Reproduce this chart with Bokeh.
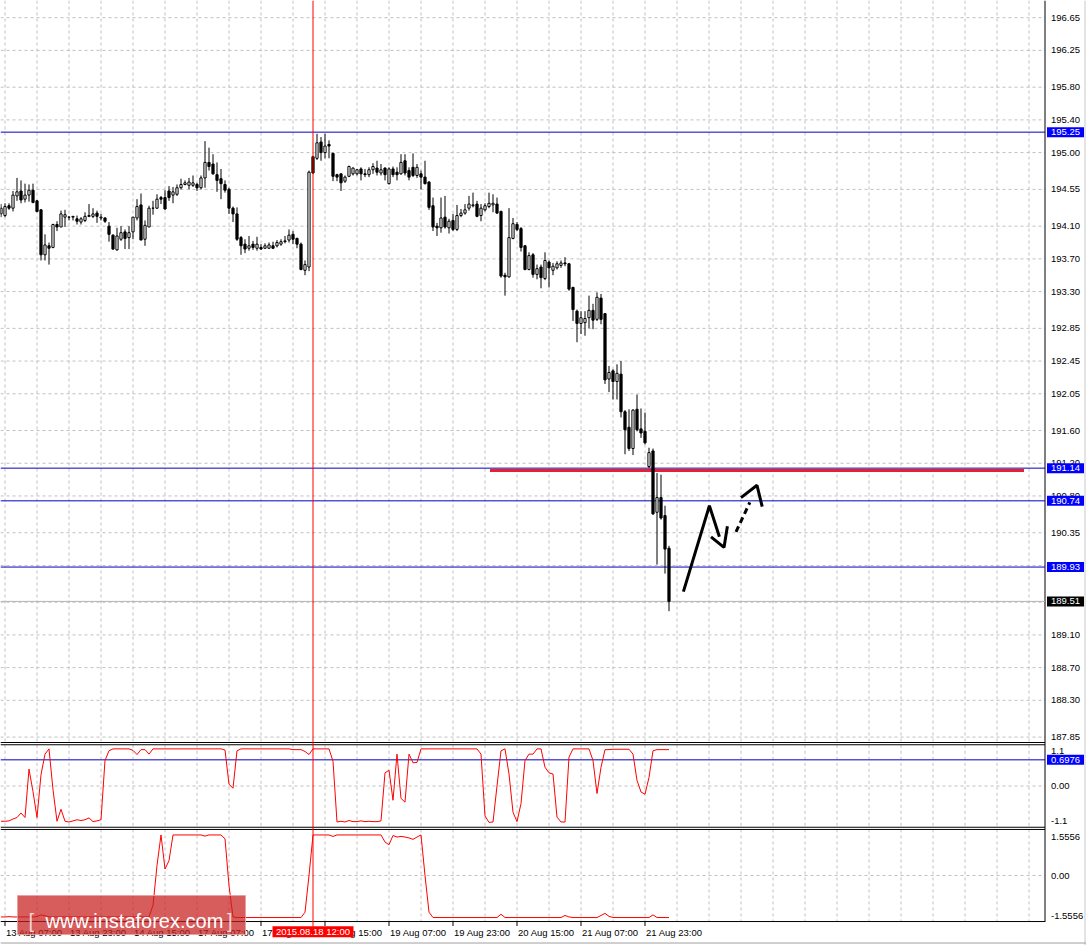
from bokeh.plotting import figure
from bokeh.models import ColumnDataSource, Range1d
from bokeh.embed import file_html
from bokeh.resources import INLINE
from bokeh.core.properties import value

# ---------------- data (H1 candles, bar index 0 = 13 Aug 06:00) ----------------
opens = [194.25,194.23,194.35,194.32,194.47,194.53,194.43,194.48,194.54,194.41,
194.30,193.75,193.86,193.84,194.12,194.09,194.21,194.21,194.21,194.19,
194.15,194.17,194.22,194.22,194.26,194.20,194.20,194.10,193.99,193.81,
193.94,194.03,193.96,194.03,194.20,194.36,193.94,194.09,194.32,194.32,
194.45,194.45,194.53,194.48,194.49,194.57,194.61,194.60,194.60,194.61,
194.57,194.69,194.88,194.86,194.73,194.68,194.61,194.55,194.32,194.25,
193.96,193.88,193.83,193.88,193.83,193.84,193.83,193.83,193.86,193.86,
193.88,193.91,193.93,194.00,193.95,193.88,193.56,193.60,194.95,194.93,
195.13,195.00,195.10,194.99,194.73,194.74,194.65,194.71,194.74,194.74,
194.80,194.74,194.73,194.79,194.81,194.75,194.81,194.62,194.80,194.76,
194.74,194.90,194.78,194.82,194.72,194.74,194.70,194.64,194.35,194.10,
194.08,194.21,194.08,194.17,194.06,194.23,194.26,194.32,194.35,194.37,
194.23,194.30,194.34,194.36,194.37,194.28,193.50,193.48,193.95,194.12,
194.07,193.86,193.57,193.75,193.51,193.60,193.46,193.66,193.56,193.59,
193.62,193.65,193.64,193.35,193.06,192.91,192.92,192.98,193.07,192.96,
193.22,193.03,192.23,192.33,192.20,192.29,191.83,191.64,191.38,191.86,
191.62,191.59,191.16,191.35,190.60,190.78,190.56,190.16]

highs = [194.37,194.38,194.38,194.53,194.69,194.66,194.62,194.61,194.62,194.42,
194.31,194.00,193.90,194.13,194.16,194.29,194.30,194.22,194.22,194.23,
194.21,194.27,194.37,194.32,194.29,194.25,194.21,194.15,194.00,194.08,
194.10,194.06,194.10,194.21,194.43,194.50,194.17,194.35,194.41,194.49,
194.47,194.54,194.59,194.58,194.61,194.68,194.66,194.69,194.72,194.63,
194.72,195.14,195.06,194.98,194.88,194.80,194.66,194.57,194.34,194.33,
193.98,193.94,193.98,193.92,193.97,193.88,193.89,193.90,193.91,193.93,
193.94,193.98,194.06,194.04,193.96,193.90,193.68,194.78,194.96,195.23,
195.19,195.23,195.15,195.00,194.74,194.74,194.72,194.84,194.82,194.80,
194.82,194.80,194.82,194.87,194.90,194.86,194.82,194.82,194.83,194.82,
194.98,194.98,194.82,194.99,194.86,194.78,194.90,194.65,194.45,194.14,
194.45,194.47,194.19,194.25,194.36,194.31,194.37,194.47,194.51,194.41,
194.37,194.38,194.51,194.49,194.45,194.29,193.53,194.32,194.20,194.15,
194.09,193.87,193.78,193.77,193.63,193.63,193.78,193.68,193.65,193.67,
193.68,193.72,193.65,193.36,193.08,193.06,193.06,193.25,193.15,193.29,
193.27,193.03,192.39,192.35,192.41,192.45,191.85,191.86,191.86,192.04,
191.87,191.82,191.39,191.38,191.08,191.06,190.68,190.19]

lows = [194.21,194.21,194.30,194.28,194.41,194.38,194.39,194.40,194.38,194.27,
193.68,193.68,193.63,193.83,194.04,194.09,194.09,194.17,194.17,194.12,
194.12,194.15,194.21,194.20,194.14,194.17,194.14,193.91,193.81,193.80,
193.92,193.82,193.82,193.94,194.17,193.93,193.86,194.09,194.24,194.31,
194.37,194.30,194.41,194.38,194.47,194.55,194.60,194.55,194.58,194.53,
194.55,194.57,194.78,194.73,194.52,194.43,194.51,194.25,194.15,193.92,
193.75,193.77,193.80,193.81,193.80,193.81,193.82,193.82,193.82,193.84,
193.86,193.89,193.90,193.88,193.83,193.56,193.50,193.55,194.74,194.91,
194.90,194.93,194.93,194.65,194.65,194.53,194.63,194.70,194.72,194.72,
194.66,194.70,194.70,194.74,194.72,194.72,194.66,194.61,194.70,194.66,
194.73,194.72,194.66,194.70,194.69,194.55,194.61,194.30,194.04,193.98,
194.02,194.07,194.01,194.04,194.04,194.21,194.24,194.29,194.33,194.21,
194.16,194.28,194.32,194.27,194.25,193.47,193.25,193.47,193.94,194.04,
193.79,193.56,193.56,193.47,193.45,193.34,193.44,193.35,193.50,193.57,
193.59,193.61,193.31,192.94,192.68,192.78,192.76,192.85,192.84,192.94,
192.90,192.17,192.07,191.98,191.98,191.76,191.31,191.35,191.30,191.59,
191.51,191.43,191.14,190.57,189.96,190.51,189.85,189.39]

closes = [194.32,194.34,194.32,194.48,194.52,194.42,194.48,194.54,194.39,194.28,
193.75,193.87,193.83,194.12,194.09,194.25,194.24,194.21,194.22,194.16,
194.19,194.22,194.23,194.25,194.22,194.21,194.16,194.00,193.82,193.98,
194.02,193.95,194.02,194.21,194.34,193.93,194.11,194.32,194.32,194.43,
194.43,194.31,194.45,194.52,194.57,194.61,194.63,194.64,194.63,194.57,
194.69,194.88,194.83,194.74,194.66,194.62,194.54,194.32,194.25,193.94,
193.86,193.82,193.86,193.84,193.88,193.82,193.86,193.87,193.83,193.90,
193.91,193.92,193.99,193.94,193.88,193.57,193.63,194.76,194.75,195.12,
195.00,195.08,195.08,194.71,194.70,194.63,194.70,194.83,194.81,194.79,
194.74,194.73,194.79,194.83,194.76,194.79,194.73,194.80,194.73,194.73,
194.88,194.75,194.70,194.72,194.82,194.70,194.62,194.33,194.09,194.08,
194.20,194.09,194.16,194.06,194.23,194.26,194.30,194.37,194.36,194.22,
194.32,194.35,194.38,194.38,194.26,193.49,193.48,193.96,194.13,194.06,
193.84,193.57,193.74,193.51,193.58,193.47,193.68,193.59,193.61,193.64,
193.65,193.64,193.33,193.08,192.91,192.98,192.97,193.07,192.95,193.23,
192.96,192.22,192.31,192.20,192.30,191.83,191.61,191.38,191.85,191.61,
191.57,191.45,191.33,190.58,190.78,190.53,190.15,189.51]

osc1 = [-0.94,-0.94,-0.93,-0.88,-0.84,-0.72,-0.84,0.45,-0.15,-0.84,
0.30,0.85,0.99,-0.10,-0.94,-0.62,-0.94,-0.96,-0.93,-0.90,
-0.92,-0.90,-0.85,-0.95,-0.93,-0.90,0.68,0.94,0.99,0.99,
0.99,0.99,0.99,0.95,0.84,0.97,0.97,0.85,0.99,0.99,
0.99,0.99,0.99,0.99,0.99,0.99,0.99,0.99,0.99,0.99,
0.99,0.99,0.99,0.99,0.99,0.99,0.96,0.05,-0.06,0.94,
0.99,0.99,0.99,0.99,0.99,0.99,0.99,0.99,0.99,0.99,
0.99,0.99,0.99,0.97,0.97,0.97,0.92,0.84,0.99,0.99,
0.99,0.99,0.99,0.66,-0.96,-0.94,-0.96,-0.92,-0.95,-0.95,
-0.93,-0.95,-0.94,-0.95,-0.95,-0.93,0.35,0.42,-0.38,0.85,
-0.33,-0.43,0.85,0.62,0.63,0.99,0.99,0.99,0.99,0.99,
0.99,0.99,0.99,0.99,0.99,0.99,0.99,0.99,0.99,0.99,
0.85,-0.80,-0.97,-0.96,0.00,0.94,0.99,0.32,-0.70,-0.95,
-0.47,0.68,0.85,0.85,0.99,0.99,0.50,0.35,0.32,-0.83,
-0.96,-0.96,0.77,0.99,0.99,0.99,0.99,0.99,0.68,-0.20,
0.50,0.97,0.97,0.98,0.98,0.98,0.98,0.98,0.85,0.15,
-0.16,-0.22,0.23,0.94,0.97,0.97,0.97,0.97]

osc2 = [-1.40,-1.40,-1.39,-1.40,-1.40,-1.40,-1.40,-1.40,-1.40,-1.39,
-1.33,-1.36,-1.40,-1.40,-1.40,-1.40,-1.40,-1.40,-1.40,-1.40,
-1.40,-1.40,-1.40,-1.40,-1.40,-1.40,-1.40,-1.40,-1.40,-1.40,
-1.40,-1.40,-1.40,-1.40,-1.40,-1.40,-1.40,-1.40,-1.01,0.34,
1.37,0.22,0.50,1.37,1.37,1.37,1.37,1.37,1.37,1.37,
1.37,1.33,1.37,1.37,1.37,1.37,1.24,-0.34,-1.40,-1.42,
-1.42,-1.42,-1.42,-1.42,-1.42,-1.42,-1.42,-1.42,-1.42,-1.42,
-1.42,-1.42,-1.42,-1.42,-1.42,-1.42,-1.24,0.00,1.37,1.37,
1.37,1.37,1.37,1.32,1.37,1.37,1.37,1.37,1.37,1.37,
1.37,1.37,1.37,1.37,1.37,1.37,1.13,1.04,1.35,1.30,
1.32,1.30,1.27,1.22,1.30,1.37,0.00,-1.24,-1.42,-1.42,
-1.42,-1.42,-1.42,-1.42,-1.42,-1.42,-1.42,-1.42,-1.42,-1.42,
-1.42,-1.42,-1.42,-1.42,-1.42,-1.31,-1.42,-1.42,-1.42,-1.42,
-1.42,-1.42,-1.42,-1.42,-1.42,-1.42,-1.42,-1.42,-1.42,-1.42,
-1.42,-1.35,-1.40,-1.42,-1.42,-1.42,-1.42,-1.42,-1.42,-1.42,
-1.35,-1.28,-1.38,-1.42,-1.42,-1.42,-1.42,-1.42,-1.42,-1.42,
-1.42,-1.42,-1.42,-1.33,-1.42,-1.42,-1.42,-1.42]

x_tick_bars = [1, 17, 33, 49, 65, 81, 97, 113, 129, 145, 161]
x_tick_labels = ["13 Aug 07:00", "13 Aug 23:00", "14 Aug 15:00", "17 Aug 07:00",
                 "17 Aug 23:00", "18 Aug 15:00", "19 Aug 07:00", "19 Aug 23:00",
                 "20 Aug 15:00", "21 Aug 07:00", "21 Aug 23:00"]
price_ticks = [196.65, 196.25, 195.80, 195.40, 195.00, 194.55, 194.10, 193.70, 193.30,
               192.85, 192.45, 192.05, 191.60, 191.20, 190.80, 190.35, 189.95, 189.50,
               189.10, 188.70, 188.30, 187.85]
blue_levels = [195.25, 191.14, 190.74, 189.93]
last_price = 189.51
red_level = 191.11
red_level_from = 122.25
red_level_to = 255.75
marker_bar = 78
marker_text = "2015.08.18 12:00"
osc1_window = 1.1
osc1_level = 0.6976
osc2_window = 1.5556
watermark = "www.instaforex.com"

# hand-drawn forecast arrow (bar index, price)
fc_a_x = [170.6, 177.1, 179.6]
fc_a_y = [189.63, 190.68, 190.30]
fc_b_x = [177.5, 180.75, 181.6]
fc_b_y = [190.30, 190.17, 190.43]
fc_dash_x = [183.75, 187.2]
fc_dash_y = [190.36, 190.72]
fc_c_x = [185.0, 189.0, 190.3]
fc_c_y = [190.78, 190.93, 190.67]

# ---------------- layout (one canvas, three scales) ----------------
W, H = 1086, 945
BAR_PX = 4.0
X0 = -0.125
X1 = X0 + W / BAR_PX
PPU_P = 81.75
P_TOP = 196.65 + 17.2 / PPU_P
P_BOT = P_TOP - H / PPU_P
O1_ZERO, PPU_1 = 785.5, 37.5
O2_ZERO, PPU_2 = 875.0, 29.6

FONT = value("Liberation Sans")
FS = "9.5px"
GRID = "#C0C0C0"
BLUE = "#0000FF"
LEVEL_BLUE = "#0000C0"


def xp(px):
    return X0 + px / BAR_PX


def yp(py):
    return P_TOP - py / PPU_P


def y1(py):
    return (O1_ZERO - py) / PPU_1


def y2(py):
    return (O2_ZERO - py) / PPU_2


AX = xp(1044.5)
LABEL_X = xp(1050.5)
BOX_X = xp(1065.0)
MAIN_BOTTOM = yp(742.0)

p = figure(frame_width=W, frame_height=H, x_range=Range1d(X0, X1), y_range=Range1d(P_BOT, P_TOP),
           output_backend="svg", toolbar_location=None, x_axis_location=None, y_axis_location=None,
           min_border_left=0, min_border_right=0, min_border_top=0, min_border_bottom=0,
           outline_line_color=None, background_fill_color="white", border_fill_color="white")
p.extra_y_ranges = {"o1": Range1d(y1(H), y1(0)), "o2": Range1d(y2(H), y2(0))}
p.grid.visible = False

grid_bars = list(range(1, int(AX), 8))
ng = len(grid_bars)

# ---- grids ----
p.segment(x0=grid_bars, x1=grid_bars, y0=[P_TOP] * ng, y1=[MAIN_BOTTOM] * ng,
          line_color=GRID, line_dash="3 3", line_width=1)
p.segment(x0=[X0] * len(price_ticks), x1=[AX] * len(price_ticks), y0=price_ticks, y1=price_ticks,
          line_color=GRID, line_dash="3 3", line_width=1)
p.segment(x0=grid_bars, x1=grid_bars, y0=[osc1_window] * ng, y1=[-osc1_window] * ng,
          line_color=GRID, line_dash="3 3", y_range_name="o1")
p.segment(x0=[X0], x1=[AX], y0=[0.0], y1=[0.0], line_color=GRID, line_dash="3 3", y_range_name="o1")
p.segment(x0=grid_bars, x1=grid_bars, y0=[osc2_window] * ng, y1=[-osc2_window] * ng,
          line_color=GRID, line_dash="3 3", y_range_name="o2")
p.segment(x0=[X0], x1=[AX], y0=[0.0], y1=[0.0], line_color=GRID, line_dash="3 3", y_range_name="o2")

# ---- window borders and axis lines ----
p.segment(x0=[X0], x1=[AX], y0=[MAIN_BOTTOM], y1=[MAIN_BOTTOM], line_color="black")
p.segment(x0=[X0, X0], x1=[AX, AX], y0=[osc1_window, -osc1_window], y1=[osc1_window, -osc1_window],
          line_color="black", y_range_name="o1")
p.segment(x0=[X0, X0], x1=[AX, AX], y0=[osc2_window, -osc2_window], y1=[osc2_window, -osc2_window],
          line_color="black", y_range_name="o2")
p.segment(x0=[AX], x1=[AX], y0=[P_TOP], y1=[yp(921.5)], line_color="black")
p.segment(x0=[xp(1084.5)], x1=[xp(1084.5)], y0=[P_TOP], y1=[P_BOT], line_color="#C8C8C8")
p.segment(x0=[X0], x1=[X1], y0=[yp(942.5)], y1=[yp(942.5)], line_color="#A0A0A0")

# ---- price levels ----
for lv in blue_levels:
    p.segment(x0=[X0], x1=[AX], y0=[lv], y1=[lv], line_color=LEVEL_BLUE, line_width=1)
p.segment(x0=[X0], x1=[AX], y0=[last_price], y1=[last_price], line_color="#B4B4B4", line_width=1)
p.segment(x0=[red_level_from], x1=[red_level_to], y0=[red_level], y1=[red_level],
          line_color="#E8202E", line_width=3)

# ---- candles ----
xs = list(range(len(opens)))
tops = [max(o, c) for o, c in zip(opens, closes)]
bots = [min(o, c) for o, c in zip(opens, closes)]
fills = ["white" if c > o else "black" for o, c in zip(opens, closes)]
src = ColumnDataSource(dict(x=xs, high=highs, low=lows, top=tops, bottom=bots, fill=fills))
p.segment(x0="x", y0="high", x1="x", y1="low", line_color="black", line_width=1, source=src)
p.vbar(x="x", width=0.55, top="top", bottom="bottom", fill_color="fill",
       line_color="black", line_width=1, source=src)

# ---- forecast sketch ----
p.line(fc_a_x, fc_a_y, line_color="black", line_width=3)
p.line(fc_b_x, fc_b_y, line_color="black", line_width=3)
p.line(fc_dash_x, fc_dash_y, line_color="black", line_width=3, line_dash="6 4")
p.line(fc_c_x, fc_c_y, line_color="black", line_width=3)

# ---- oscillators ----
p.segment(x0=[X0], x1=[AX], y0=[osc1_level], y1=[osc1_level], line_color=LEVEL_BLUE, y_range_name="o1")
p.line(xs, osc1, line_color="#FF0000", line_width=1, y_range_name="o1")
p.line(xs, osc2, line_color="#FF0000", line_width=1, y_range_name="o2")

# ---- vertical marker ----
p.segment(x0=[marker_bar], x1=[marker_bar], y0=[P_TOP], y1=[yp(926.0)], line_color="#FF0000", line_width=1)

# ---- right price scale ----
p.text(x=[LABEL_X] * len(price_ticks), y=price_ticks, text=["%.2f" % t for t in price_ticks],
       text_font=FONT, text_font_size=FS, text_color="black", text_align="left", text_baseline="middle")
box_levels = blue_levels + [last_price]
box_colors = [BLUE] * len(blue_levels) + ["black"]
p.rect(x=[BOX_X] * len(box_levels), y=box_levels, width=37, height=10, width_units="screen",
       height_units="screen", fill_color=box_colors, line_color=None)
p.text(x=[LABEL_X] * len(box_levels), y=box_levels, text=["%.2f" % v for v in box_levels],
       text_font=FONT, text_font_size=FS, text_color="white", text_align="left", text_baseline="middle")

# oscillator 1 scale
p.text(x=[LABEL_X] * 3, y=[y1(750.0), 0.0, y1(820.0)], text=["1.1", "0.00", "-1.1"],
       text_font=FONT, text_font_size=FS, text_color="black", text_align="left",
       text_baseline="middle", y_range_name="o1")
p.rect(x=[BOX_X], y=[osc1_level], width=37, height=10, width_units="screen", height_units="screen",
       fill_color=BLUE, line_color=None, y_range_name="o1")
p.text(x=[LABEL_X], y=[osc1_level], text=["%.4f" % osc1_level], text_font=FONT, text_font_size=FS,
       text_color="white", text_align="left", text_baseline="middle", y_range_name="o1")

# oscillator 2 scale
p.text(x=[LABEL_X] * 3, y=[y2(836.7), 0.0, y2(915.7)], text=["1.5556", "0.00", "-1.5556"],
       text_font=FONT, text_font_size=FS, text_color="black", text_align="left",
       text_baseline="middle", y_range_name="o2")

# ---- time scale ----
nt = len(x_tick_bars)
p.segment(x0=x_tick_bars, x1=x_tick_bars, y0=[-osc2_window] * nt, y1=[y2(925.5)] * nt,
          line_color="black", y_range_name="o2")
p.text(x=x_tick_bars, y=[y2(932.3)] * nt, x_offset=1, text=x_tick_labels, text_font=FONT,
       text_font_size=FS, text_color="black", text_align="left", text_baseline="middle",
       y_range_name="o2")
p.rect(x=[marker_bar], y=[y2(931.3)], width=81, height=11, width_units="screen",
       height_units="screen", fill_color="#FF0000", line_color=None, y_range_name="o2")
p.text(x=[marker_bar], y=[y2(931.3)], text=[marker_text], text_font=FONT, text_font_size=FS,
       text_color="white", text_align="center", text_baseline="middle", y_range_name="o2")

# ---- watermark ----
p.rect(x=[xp(131.0)], y=[y2(914.5)], width=228, height=39, width_units="screen",
       height_units="screen", fill_color="#C81E1E", fill_alpha=0.72,
       line_color="#E8A0A0", line_alpha=0.9, y_range_name="o2")
p.text(x=[xp(45.0)], y=[y2(920.5)], text=[watermark], text_font=FONT, text_font_size="20px",
       text_color="white", text_align="left", text_baseline="alphabetic", y_range_name="o2")
p.text(x=[xp(28.0), xp(226.5)], y=[y2(920.5)] * 2, text=["[", "]"], text_font=FONT,
       text_font_size="20px", text_color="#F6D6D6", text_align="left", text_baseline="alphabetic",
       y_range_name="o2")

open("out.html", "w").write(file_html(p, INLINE))
